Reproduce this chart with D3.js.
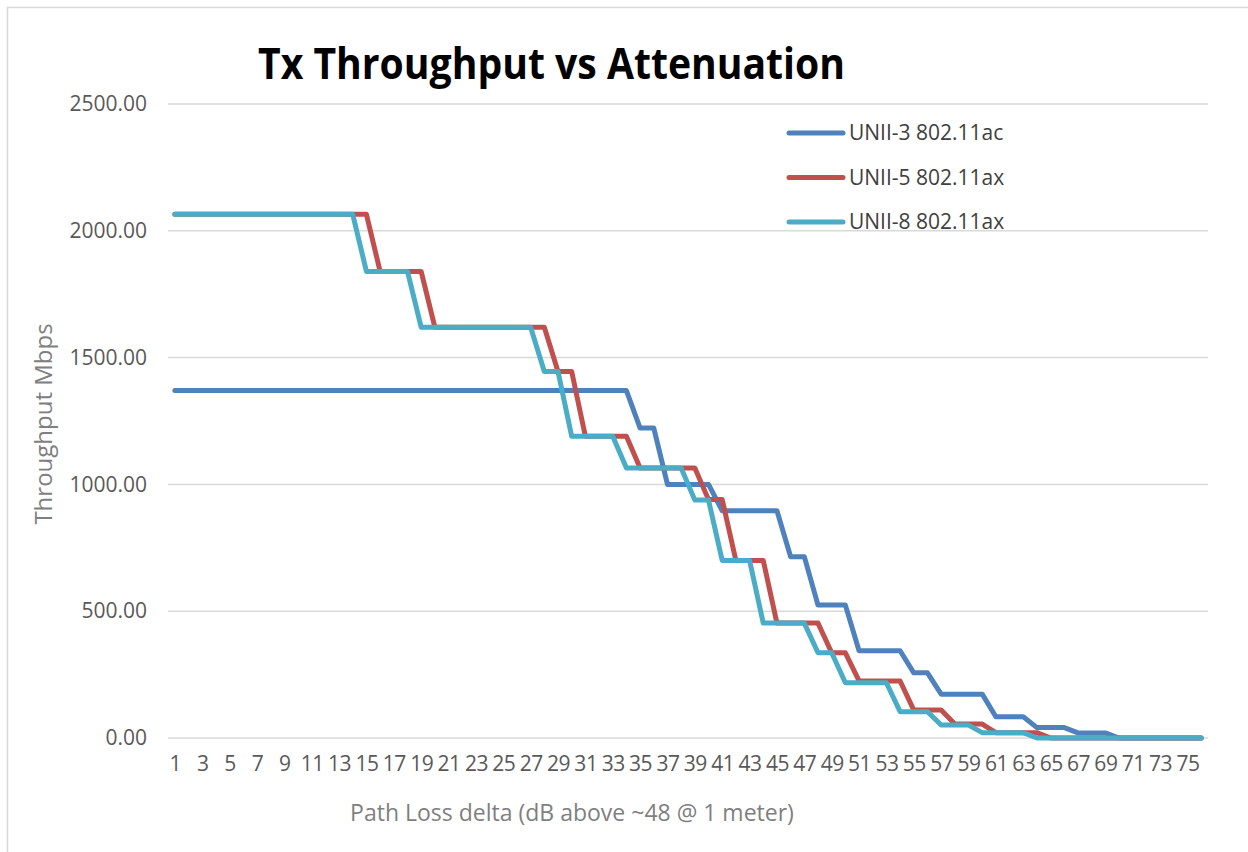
<!DOCTYPE html>
<html>
<head>
<meta charset="utf-8">
<script src="https://cdn.jsdelivr.net/npm/d3@7"></script>
<style>
    body { margin: 0; background: #fff; }
    text { font-family: "Open Sans", "Noto Sans", sans-serif; }
</style>
</head>
<body>
<div id="chart"></div>
<script>
// Path loss delta categories (dB above ~48 @ 1 meter)
const categories = [
    1, 2, 3, 4, 5, 6, 7, 8, 9, 10, 11, 12, 13, 14, 15, 16, 17, 18, 19, 20,
    21, 22, 23, 24, 25, 26, 27, 28, 29, 30, 31, 32, 33, 34, 35, 36, 37, 38, 39, 40,
    41, 42, 43, 44, 45, 46, 47, 48, 49, 50, 51, 52, 53, 54, 55, 56, 57, 58, 59, 60,
    61, 62, 63, 64, 65, 66, 67, 68, 69, 70, 71, 72, 73, 74, 75, 76
];

// Throughput (Mbps) per category
const unii3ac = [
    1370, 1370, 1370, 1370, 1370, 1370, 1370, 1370, 1370, 1370, 1370, 1370, 1370, 1370, 1370, 1370, 1370, 1370, 1370, 1370,
    1370, 1370, 1370, 1370, 1370, 1370, 1370, 1370, 1370, 1370, 1370, 1370, 1370, 1370, 1222, 1222, 1000, 1000, 1000, 1000,
    896, 896, 896, 896, 896, 715, 715, 524, 524, 524, 344, 344, 344, 344, 257, 257, 173, 173, 173, 173,
    84, 84, 84, 41, 41, 41, 20, 20, 20, 0, 0, 0, 0, 0, 0, 0
];
const unii5ax = [
    2065, 2065, 2065, 2065, 2065, 2065, 2065, 2065, 2065, 2065, 2065, 2065, 2065, 2065, 2065, 1840, 1840, 1840, 1840, 1620,
    1620, 1620, 1620, 1620, 1620, 1620, 1620, 1620, 1445, 1445, 1190, 1190, 1190, 1190, 1065, 1065, 1065, 1065, 1065, 940,
    940, 700, 700, 700, 453, 453, 453, 453, 336, 336, 225, 225, 225, 225, 110, 110, 110, 55, 55, 55,
    21, 21, 21, 21, 0, 0, 0, 0, 0, 0, 0, 0, 0, 0, 0, 0
];
const unii8ax = [
    2065, 2065, 2065, 2065, 2065, 2065, 2065, 2065, 2065, 2065, 2065, 2065, 2065, 2065, 1840, 1840, 1840, 1840, 1620, 1620,
    1620, 1620, 1620, 1620, 1620, 1620, 1620, 1445, 1445, 1190, 1190, 1190, 1190, 1065, 1065, 1065, 1065, 1065, 938, 938,
    700, 700, 700, 453, 453, 453, 453, 336, 336, 218, 218, 218, 218, 104, 104, 104, 51, 51, 51, 21,
    21, 21, 21, 0, 0, 0, 0, 0, 0, 0, 0, 0, 0, 0, 0, 0
];

const seriesNames = ["UNII-3 802.11ac", "UNII-5 802.11ax", "UNII-8 802.11ax"];
const seriesColors = ["#4f81bd", "#c0504d", "#4bacc6"];
const yTicks = [0, 500, 1000, 1500, 2000, 2500];

const width = 1248;
const height = 852;

const svg = d3.select("#chart").append("svg")
    .attr("width", width)
    .attr("height", height);

// Outer chart frame (only top and left edges are inside the picture)
svg.append("rect")
    .attr("x", 7.5)
    .attr("y", 7.5)
    .attr("width", width + 20)
    .attr("height", height + 20)
    .attr("fill", "#fff")
    .attr("stroke", "#d9d9d9")
    .attr("stroke-width", 1.5);

// Scales
const x = d3.scalePoint()
    .domain(categories)
    .range([168, 1208])
    .padding(0.5);

const y = d3.scaleLinear()
    .domain([0, 2500])
    .range([738, 104]);

// Gridlines
svg.append("g")
    .selectAll("line")
    .data(yTicks)
    .join("line")
    .attr("x1", 168)
    .attr("x2", 1208)
    .attr("y1", d => y(d))
    .attr("y2", d => y(d))
    .attr("stroke", "#d9d9d9")
    .attr("stroke-width", 1.5);

// Y axis labels
const yAxis = svg.append("g")
    .attr("transform", "translate(168,0)")
    .call(d3.axisLeft(y).tickValues(yTicks).tickFormat(d3.format(".2f")).tickSize(0).tickPadding(21));
yAxis.select(".domain").remove();
yAxis.selectAll("text")
    .attr("font-family", "Open Sans")
    .attr("font-size", 21)
    .attr("fill", "#595959");

// X axis labels (every other category)
const xAxis = svg.append("g")
    .attr("transform", "translate(0,738)")
    .call(d3.axisBottom(x).tickValues(categories.filter((d, i) => i % 2 === 0)).tickSize(0).tickPadding(18));
xAxis.select(".domain").remove();
xAxis.selectAll("text")
    .attr("font-family", "Open Sans")
    .attr("font-size", 21)
    .attr("letter-spacing", -0.5)
    .attr("fill", "#595959");

// Lines
const line = d3.line()
    .x(d => x(d.cat))
    .y(d => y(d.val));

const allSeries = [unii3ac, unii5ax, unii8ax].map((vals, i) => ({
    name: seriesNames[i],
    color: seriesColors[i],
    points: categories.map((c, j) => ({ cat: c, val: vals[j] }))
}));

svg.append("g")
    .selectAll("path")
    .data(allSeries)
    .join("path")
    .attr("d", d => line(d.points))
    .attr("fill", "none")
    .attr("stroke", d => d.color)
    .attr("stroke-width", 5)
    .attr("stroke-linejoin", "round")
    .attr("stroke-linecap", "round");

// Title
svg.append("text")
    .attr("x", 258)
    .attr("y", 79)
    .attr("font-size", 43)
    .attr("font-weight", "bold")
    .attr("fill", "#000")
    .attr("textLength", 587)
    .attr("lengthAdjust", "spacingAndGlyphs")
    .text("Tx Throughput vs Attenuation");

// Axis titles
svg.append("text")
    .attr("transform", "translate(52,424) rotate(-90)")
    .attr("text-anchor", "middle")
    .attr("font-size", 24)
    .attr("fill", "#7f7f7f")
    .text("Throughput Mbps");

svg.append("text")
    .attr("x", 572)
    .attr("y", 821)
    .attr("text-anchor", "middle")
    .attr("font-size", 23)
    .attr("fill", "#7f7f7f")
    .text("Path Loss delta (dB above ~48 @ 1 meter)");

// Legend
const legend = svg.append("g")
    .selectAll("g")
    .data(allSeries)
    .join("g")
    .attr("transform", (d, i) => `translate(789,${133 + i * 44.5})`);

legend.append("line")
    .attr("x1", 0)
    .attr("x2", 54)
    .attr("stroke", d => d.color)
    .attr("stroke-width", 5)
    .attr("stroke-linecap", "round");

legend.append("text")
    .attr("x", 60)
    .attr("dy", "0.35em")
    .attr("font-size", 21)
    .attr("fill", "#404040")
    .text(d => d.name);
</script>
</body>
</html>
